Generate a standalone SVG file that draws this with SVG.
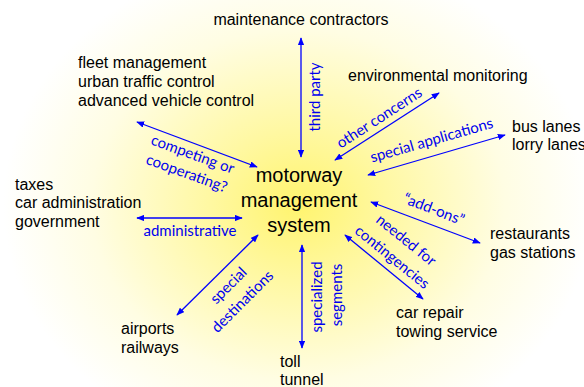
<svg xmlns="http://www.w3.org/2000/svg" width="584" height="387" viewBox="0 0 584 387">
<defs>
<radialGradient id="bg" gradientUnits="userSpaceOnUse" cx="298" cy="205" r="295" gradientTransform="translate(298 205) scale(1 0.85) translate(-298 -205)">
<stop offset="0" stop-color="#fff46e"/>
<stop offset="0.3" stop-color="#fff8a2"/>
<stop offset="0.7" stop-color="#fffde3"/>
<stop offset="1" stop-color="#ffffff"/>
</radialGradient>
<marker id="ah" viewBox="0 0 10 8" refX="9" refY="4" markerWidth="8" markerHeight="6.4" markerUnits="userSpaceOnUse" orient="auto-start-reverse">
<path d="M0,0 L10,4 L0,8 z" fill="#0000ff"/>
</marker>
</defs>
<style>
.n{font-family:"Liberation Sans",Arial,sans-serif;font-size:16px;fill:#000}
.c{font-family:"Liberation Sans",Arial,sans-serif;font-size:20px;fill:#000;text-anchor:middle}
.l{font-family:Lato,"Open Sans",sans-serif;font-size:15px;fill:#0000ee;text-anchor:middle}
.a{stroke:#0000ff;stroke-width:1.3;fill:none;marker-start:url(#ah);marker-end:url(#ah)}
</style>
<rect width="584" height="387" fill="url(#bg)"/>
<g id="connectors">
<line class="a" x1="301" y1="38" x2="301" y2="157"/>
<line class="a" x1="137" y1="122" x2="257" y2="167"/>
<line class="a" x1="335" y1="160" x2="439" y2="93"/>
<line class="a" x1="368" y1="175" x2="505" y2="135"/>
<line class="a" x1="371" y1="202" x2="480" y2="243"/>
<line class="a" x1="345" y1="235" x2="423" y2="299"/>
<line class="a" x1="258" y1="235" x2="177" y2="315"/>
<line class="a" x1="302" y1="245" x2="302" y2="348"/>
<line class="a" x1="137" y1="218" x2="242" y2="218"/>
</g>
<g id="labels">
<text class="l" transform="translate(320 97) rotate(-90)">third party</text>
<text class="l" transform="translate(191 159) rotate(20)">competing or</text>
<text class="l" transform="translate(185 178) rotate(20)">cooperating?</text>
<text class="l" transform="translate(382 122) rotate(-33)">other concerns</text>
<text class="l" transform="translate(433 145) rotate(-16)">special applications</text>
<text class="l" transform="translate(432 214) rotate(21)">“add-ons”</text>
<text class="l" transform="translate(403 244) rotate(39)">needed for</text>
<text class="l" transform="translate(389 261) rotate(39)">contingencies</text>
<text class="l" transform="translate(232 289) rotate(-45)">special</text>
<text class="l" transform="translate(246 305) rotate(-45)">destinations</text>
<text class="l" transform="translate(322 297) rotate(-90)">specialized</text>
<text class="l" transform="translate(342 295) rotate(-90)">segments</text>
<text class="l" x="190" y="236">administrative</text>
</g>
<g id="center">
<text class="c" x="299" y="182">motorway</text>
<text class="c" x="299" y="207">management</text>
<text class="c" x="299" y="232">system</text>
</g>
<g id="maintenance"><text class="n" x="301" y="25" text-anchor="middle">maintenance contractors</text></g>
<g id="fleet">
<text class="n" x="78" y="68">fleet management</text>
<text class="n" x="78" y="87">urban traffic control</text>
<text class="n" x="78" y="106">advanced vehicle control</text>
</g>
<g id="environmental"><text class="n" x="348" y="81">environmental monitoring</text></g>
<g id="buslanes">
<text class="n" x="512" y="132">bus lanes</text>
<text class="n" x="512" y="150">lorry lanes</text>
</g>
<g id="taxes">
<text class="n" x="15" y="190">taxes</text>
<text class="n" x="15" y="208">car administration</text>
<text class="n" x="15" y="227">government</text>
</g>
<g id="restaurants">
<text class="n" x="490" y="239">restaurants</text>
<text class="n" x="490" y="258">gas stations</text>
</g>
<g id="carrepair">
<text class="n" x="396" y="318">car repair</text>
<text class="n" x="396" y="337">towing service</text>
</g>
<g id="airports">
<text class="n" x="121" y="334">airports</text>
<text class="n" x="121" y="353">railways</text>
</g>
<g id="toll">
<text class="n" x="280" y="367">toll</text>
<text class="n" x="280" y="385">tunnel</text>
</g>
</svg>
